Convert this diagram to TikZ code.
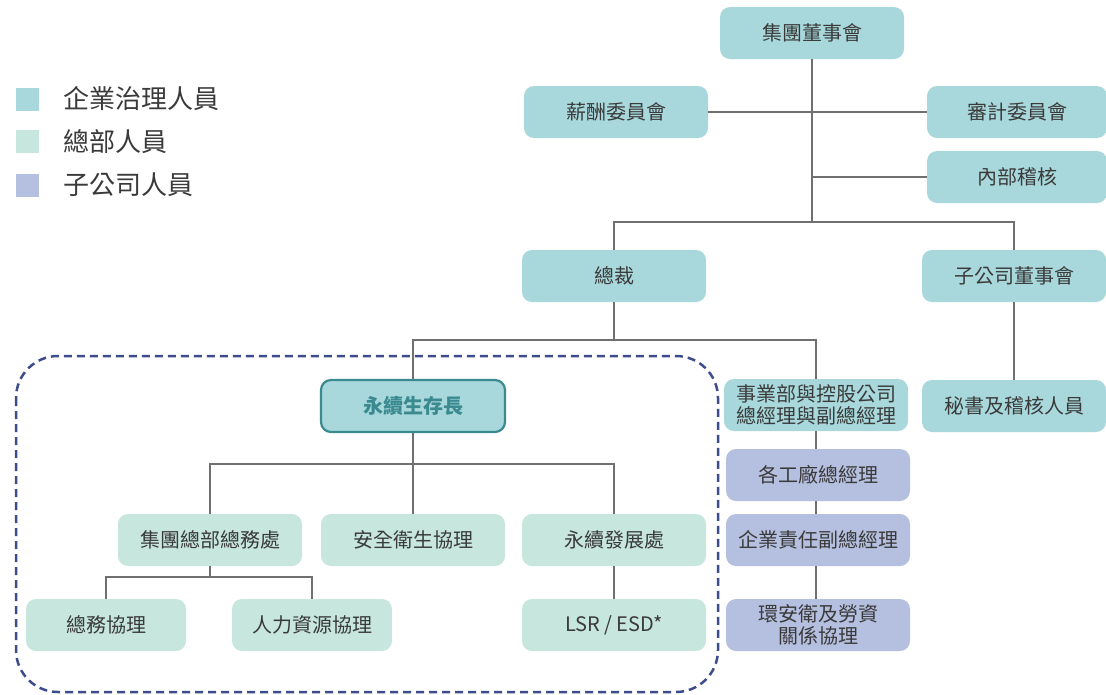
\documentclass[tikz,border=0pt]{standalone}
\usepackage{fontspec}
\setmainfont{Noto Sans CJK TC}
\definecolor{govc}{HTML}{A8D8DB}
\definecolor{hqc}{HTML}{C6E6DE}
\definecolor{subc}{HTML}{B5BFDF}
\definecolor{linec}{HTML}{707070}
\definecolor{txtc}{HTML}{3A3A3A}
\definecolor{dashc}{HTML}{3D4D8C}
\definecolor{csoc}{HTML}{3A8A90}
\tikzset{
  box/.style={rounded corners=10pt, minimum width=184pt, minimum height=52pt, inner sep=0pt, align=center, text=txtc, font=\fontsize{20}{22}\selectfont},
  gov/.style={box, fill=govc},
  hq/.style={box, fill=hqc},
  sub/.style={box, fill=subc},
  conn/.style={draw=linec, line width=2.4pt},
  legsq/.style={minimum size=23pt, inner sep=0pt},
  legtxt/.style={anchor=west, text=txtc, font=\fontsize{26}{28}\selectfont, inner sep=0pt}
}
\begin{document}
\begin{tikzpicture}[x=1pt,y=-1pt]
\useasboundingbox (0,0) rectangle (1106,694);
% dashed frame
\draw[dashc, line width=2.5pt, dash pattern=on 8pt off 5pt, rounded corners=42pt] (16,356) rectangle (718,692);
% legend
\node[legsq, fill=govc] (l1) at (27.5,99) {};
\node[legsq, fill=hqc] (l2) at (27.5,141.5) {};
\node[legsq, fill=subc] (l3) at (27.5,185) {};
\node[legtxt] (t1) at (63,99) {企業治理人員};
\node[legtxt] (t2) at (63,141.5) {總部人員};
\node[legtxt] (t3) at (63,185) {子公司人員};
% nodes
\node[gov] (board) at (812,33) {集團董事會};
\node[gov] (comp) at (616,112) {薪酬委員會};
\node[gov, minimum width=180pt] (audit) at (1017,112) {審計委員會};
\node[gov, minimum width=180pt] (ia) at (1017,177) {內部稽核};
\node[gov] (ceo) at (614,276) {總裁};
\node[gov] (subb) at (1014,276) {子公司董事會};
\node[gov, draw=csoc, line width=2.2pt, text=csoc, font=\fontsize{20}{22}\selectfont\bfseries] (cso) at (413,406) {永續生存長};
\node[gov, font=\fontsize{20}{22}\selectfont] (bu) at (816,405) {事業部與控股公司\\總經理與副總經理};
\node[gov] (sec) at (1014,406) {秘書及稽核人員};
\node[sub] (plant) at (818,475) {各工廠總經理};
\node[sub] (csr) at (818,540) {企業責任副總經理};
\node[sub] (ehs) at (818,625) {環安衛及勞資\\關係協理};
\node[hq] (ga) at (210,540) {集團總部總務處};
\node[hq] (safe) at (413,540) {安全衛生協理};
\node[hq] (sd) at (614,540) {永續發展處};
\node[hq, minimum width=160pt] (gam) at (106,625) {總務協理};
\node[hq, minimum width=160pt] (hr) at (312,625) {人力資源協理};
\node[hq] (lsr) at (614,625) {LSR / ESD*};
% connectors
\coordinate (j1) at (812,222);
\draw[conn] (board.south) -- (j1);
\draw[conn] (comp.east) -- (comp.east -| audit.west);
\draw[conn] (812,177) -- (ia.west);
\draw[conn] (ceo.north) |- (j1) -| (subb.north);
\draw[conn] (ceo.south) -- (614,340) -| (cso.north);
\draw[conn] (614,340) -| (bu.north);
\draw[conn] (bu.south) -- (plant.north -| bu.south);
\draw[conn] (plant.south -| bu.south) -- (csr.north -| bu.south);
\draw[conn] (csr.south -| bu.south) -- (ehs.north -| bu.south);
\draw[conn] (subb.south) -- (sec.north);
\draw[conn] (cso.south) -- (413,464) -| (ga.north);
\draw[conn] (413,464) -- (safe.north);
\draw[conn] (413,464) -| (sd.north);
\draw[conn] (ga.south) -- (210,577) -| (gam.north);
\draw[conn] (210,577) -| (hr.north);
\draw[conn] (sd.south) -- (lsr.north);
\end{tikzpicture}
\end{document}
